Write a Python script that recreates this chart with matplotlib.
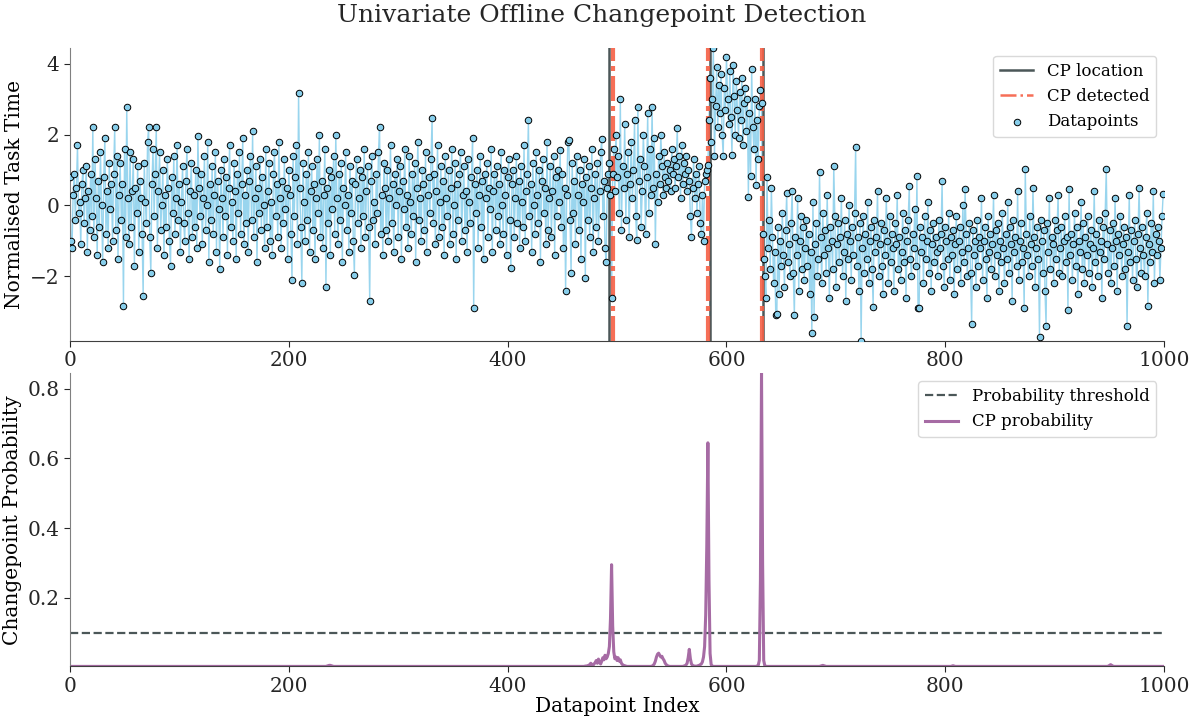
"""
单变量离线变点检测结果图：上图为数据点与变点位置，下图为变点概率
"""

import matplotlib
matplotlib.use('Agg')
import matplotlib.pyplot as plt
import numpy as np

plt.rcParams['font.family'] = ['DejaVu Serif']

# 归一化任务时间
task_time = [
    # 0 - 492
    0.8, -1.0, -1.2, 0.3, 0.9, -0.4, 0.5, 1.7, -0.2, 0.1, -1.1, 0.6, 1.0, -0.5, 0.2, 1.1, -1.3, 0.4, -0.7, 0.9,
    -0.3, 2.2, -0.9, 1.3, 0.2, -1.4, 0.7, -0.6, 1.5, 0.0, -1.6, 0.8, 1.9, -0.8, 0.4, -1.2, 1.2, -0.1, 0.6, -1.0,
    0.9, 2.2, -0.7, 1.4, -1.5, 0.3, 1.2, -0.4, 0.6, -2.83, 1.6, -0.9, 2.78, 0.2, -1.1, 1.5, -0.6, 0.4, 1.3, -1.7,
    0.5, -0.2, 1.1, -1.3, 0.7, 0.2, -0.8, -2.55, 1.2, 0.1, -0.5, 1.8, 2.2, -0.9, -1.9, 0.6, 1.6, -0.3, 0.9, 2.2,
    -1.2, 0.4, 1.5, -0.7, 0.0, 1.0, -1.4, 0.3, -0.6, 1.3, 0.5, -1.0, -1.7, 0.8, -0.2, 1.4, -0.8, 0.2, 1.7, -0.4,
    0.6, -1.3, 0.1, 1.1, -0.5, -1.0, 0.7, 1.6, -0.2, -1.5, 0.4, 1.2, -0.9, 0.3, -0.6, 1.0, -1.2, 1.96, 0.5, -0.3,
    0.9, -1.1, 0.2, 1.4, -0.7, 0.0, 1.8, -1.6, 0.6, -0.4, 1.1, -0.8, 0.3, 1.5, -1.3, 0.7, -0.1, -1.8, 1.0, 0.2,
    -0.9, 1.3, -0.3, 0.8, -1.4, 0.5, 1.7, -0.6, 0.1, -1.0, 1.2, 0.4, -1.5, 0.9, -0.2, 1.5, -0.8, 0.6, 1.9, -1.1,
    0.3, -0.5, 1.0, -1.3, 0.7, 1.4, -0.4, 2.1, -0.9, 0.2, 1.1, -1.6, 0.5, -0.2, 1.3, -0.7, 0.8, 0.0, -1.2, 1.6,
    -0.6, 0.4, 1.2, -1.0, 0.1, -1.4, 0.9, 1.5, -0.3, 0.6, -0.9, 1.8, 0.2, -1.2, 0.7, -0.5, 1.3, -0.1, 0.5, -1.5,
    1.0, 0.3, -0.8, -2.1, 1.4, -0.3, 0.8, 1.7, -1.1, 3.18, 0.5, -0.6, -2.2, 1.2, 0.1, -1.0, 0.9, -0.4, 1.5, -1.3,
    0.4, 1.1, -0.7, 0.6, -1.5, 0.2, 1.3, -0.2, 2.0, -0.9, 0.7, -1.2, 0.3, 1.6, -2.3, 0.5, -0.5, 1.0, -1.4, 0.8,
    -0.1, 1.4, -0.8, 2.0, 0.2, -1.1, 0.9, -0.4, 1.2, -1.6, 0.5, 0.0, 1.5, -0.7, 0.3, -1.3, 1.1, -0.2, 0.7, -1.0,
    -1.95, 0.6, 1.3, -0.5, 0.2, 1.0, -1.2, 0.8, -0.3, 1.6, -0.9, 0.4, 1.1, -0.6, -2.7, 0.7, 1.4, -0.4, 0.1, -1.1,
    0.9, -0.2, 1.5, 2.2, -0.8, 0.3, -1.4, 1.2, 0.5, -0.7, 1.0, -1.0, 0.2, 1.7, -0.5, 0.6, -1.3, 0.9, 0.0, 1.3,
    -0.9, 0.4, 1.1, -1.5, 0.7, -0.1, 1.6, -0.6, 0.3, -1.2, 1.4, 0.1, -0.8, 0.9, -0.3, 1.2, -1.6, 0.5, 1.8, -0.4,
    0.2, -1.0, 1.0, 0.6, -0.7, 1.5, -1.3, 0.3, 0.8, -0.2, 1.3, 2.46, -0.5, 0.9, -1.1, 0.4, 1.7, -0.9, 0.1, 1.1,
    -0.6, 0.7, -1.4, 1.4, 0.2, -0.3, 1.0, -1.1, 0.5, 1.6, -0.8, 0.0, 1.2, -1.5, 0.6, -0.4, 0.9, 1.5, -1.0, 0.3,
    1.1, -0.7, 0.4, -1.3, 1.3, 0.1, -0.5, 0.8, 1.9, -2.9, 0.6, -0.2, 1.0, -1.2, 0.3, 1.4, -0.6, 0.7, -1.5, 0.9,
    0.2, 1.2, -0.9, 0.5, -0.1, 1.6, -1.3, 0.4, 0.9, -0.7, 1.1, -0.3, 0.6, -1.1, 1.5, 0.0, -0.8, 1.0, 0.3, -1.4,
    0.8, 1.3, -0.4, -1.76, 0.6, 1.0, -0.9, 0.2, 1.4, -0.5, 0.7, -1.2, 1.1, 0.1, -0.6, 1.7, -1.0, 0.4, 0.9, 2.4,
    -0.3, 0.6, -1.3, 1.2, 0.0, -0.8, 1.5, 0.3, -0.5, 1.0, -1.6, 0.7, 1.3, -0.2, 0.5, -1.1, 1.8, -0.7, 0.2, 1.1,
    -0.9, 0.4, 1.4, -1.4, 0.8, -0.3, 1.0, 0.1, 1.55, -0.6, 0.9, -1.2, 0.5, -2.4, 0.3, 1.8, 1.85, -0.4, -1.9, 1.2,
    -0.2, 0.7, -1.1, 1.4, 0.3, -0.7, 1.0, -1.5, 0.6, 0.1, 1.3, -2.05, 0.8, -0.4, 1.1, -0.9, 0.5, 1.6, -1.3, 0.2,
    0.9, -0.6, 1.2, -1.0, 0.4, 1.5, 1.86, -0.3, 0.7, -1.2, -1.6, 0.5, 0.9,
    # 493 - 583
    1.2, 0.3, -2.6, 0.9, 1.6, 0.4, 2.0, 0.8, 1.4, -0.2, 3.0, -0.7, 1.1, 0.5, 2.3, -0.4, 0.9, 1.5, -0.9, 0.6,
    1.8, 0.2, 1.0, 2.4, -0.3, -0.97, 2.78, 0.7, 1.3, -0.6, 0.4, 2.0, 1.1, -0.8, 0.8, 2.6, -0.2, 1.6, 0.3, 2.77,
    0.5, 1.9, -1.1, 0.9, 0.1, 1.4, 0.6, 2.0, 1.1, 0.3, 1.5, 0.8, 0.5, 1.2, 0.7, 1.0, 0.4, 1.6, 0.9, 1.3,
    0.5, 1.1, 2.18, 0.8, 1.4, 0.2, 1.7, 0.6, 1.2, 0.9, 1.4, 0.4, 1.0, 0.7, -0.3, -0.9, 0.5, 1.3, 0.2, 0.9,
    -0.2, 0.6, 1.1, -0.5, -0.8, 0.3, -1.0, 0.7, 0.9, 1.0, 1.13,
    # 584 - 632
    2.4, 3.6, 1.8, 3.0, 4.45, 1.4, 2.8, 3.9, 2.2, 3.4, 2.6, 3.7, 2.0, 1.4, 3.3, 2.7, 4.2, 3.0, 2.3, 3.8,
    2.5, 1.43, 3.97, 3.1, 2.0, 3.5, 2.7, 1.9, 3.2, 2.4, 3.6, 1.7, 2.9, 3.3, 2.1, 3.0, 0.24, 2.6, 0.82, 3.85,
    2.2, 1.6, 3.0, 0.57, 2.4, 1.3, 2.8, 3.26, 2.9,
    # 633 - 999
    -0.8, -1.5, -2.0, -2.6, 0.8, -1.2, -0.4, -1.8, 0.5, -0.9, -2.2, -1.3, -3.1, -3.06, -0.6, -2.5, -1.0, -1.7, -0.2, -1.4,
    -2.3, -0.7, 0.35, -1.6, -1.1, -2.0, -0.5, 0.4, -1.9, -3.1, -0.9, -1.4, 0.2, -2.4, -1.0, -0.3, -1.8, -0.6, -2.1, -1.2,
    -0.4, -1.7, -0.8, -2.5, -1.3, -3.6, 0.1, -3.15, -1.1, -0.5, -2.0, -1.5, 0.94, -0.9, -2.2, -0.2, -1.4, -0.7, -1.9, 0.3,
    -1.2, -2.6, -0.6, -1.0, -1.8, 1.1, -0.3, -2.3, -1.1, -0.5, -1.6, -0.9, 0.2, -2.0, -1.3, -0.4, -2.7, -0.8, -1.5, 0.0,
    -1.0, -2.1, -0.6, -1.4, -0.2, 1.65, -1.7, -0.9, -2.4, -0.5, -3.82, -1.2, -0.3, -1.9, -0.8, -1.5, 0.1, -2.2, -1.0, -0.6,
    -1.8, -2.85, -0.4, -1.3, -0.9, 0.4, -2.0, -1.1, -0.5, -1.7, -2.5, -0.7, -1.4, 0.2, -1.0, -2.2, -0.3, -1.6, -0.8, -1.2,
    -2.4, -0.5, -1.1, 0.3, -1.8, -0.9, -2.1, -1.3, -0.2, -1.6, -0.7, -2.6, -1.0, -0.4, 0.54, -1.5, -2.0, -0.8, -1.2, -0.1,
    -1.7, 0.82, -2.9, -2.9, -0.6, -1.3, -0.9, -2.2, -0.3, -1.5, -1.0, 0.1, -1.9, -0.7, -2.4, -1.1, -0.5, -1.6, -0.9, -1.3,
    -2.0, -0.4, -1.2, -0.8, 0.68, -1.7, -2.3, -0.6, -1.0, -1.5, -0.2, -2.1, -0.9, -1.4, -0.7, -2.5, -1.1, -0.3, -1.8, -1.0,
    -0.6, -2.2, -1.3, 0.0, -1.6, 0.45, -0.8, -2.0, -1.2, -0.5, -1.9, -3.33, -0.7, -1.4, -1.0, -2.3, -0.4, -1.7, -0.9, -1.2,
    0.2, -2.1, -1.0, -0.6, -1.5, -2.6, -0.3, -1.3, -0.8, -1.8, -1.1, 0.3, -2.0, -0.7, -1.4, -0.5, -2.4, -1.0, -1.6, -0.2,
    -1.2, -2.2, -0.8, -1.5, 0.1, -1.9, -0.6, -1.1, -2.7, -0.4, -1.3, -0.9, -1.7, 0.4, -2.1, -1.0, -0.5, -1.6, -1.2, -2.9,
    1.02, -0.8, -1.4, -2.0, -0.3, -1.1, -1.7, 0.5, -0.9, -2.3, -1.2, -0.6, -1.5, -3.7, -0.4, -1.0, -1.9, -0.7, -2.4, -3.4,
    -0.5, -1.3, 0.2, -1.8, -0.9, -1.1, -2.2, -0.4, -1.5, -0.7, 0.3, -1.9, -1.2, -0.6, -2.0, -1.0, -0.3, -1.6, -0.9, -2.95,
    0.45, -1.4, -0.8, -2.1, -1.1, -0.2, -1.7, -0.6, -2.5, -1.0, -1.3, 0.1, -1.8, -0.5, -2.2, -0.9, -1.4, -0.3, -1.9, -1.1,
    -0.7, -2.3, -1.2, 0.4, -1.6, -0.8, -2.0, -0.4, -1.3, -1.0, -2.6, -0.6, -1.5, -0.2, 1.02, -1.1, -1.9, -0.7, -2.2, -1.2,
    -0.5, -1.7, 0.2, -1.0, -2.4, -0.8, -1.4, -0.3, -2.0, -1.1, -0.6, -1.8, -0.9, -3.4, -1.3, 0.3, -1.6, -0.7, -2.1, -1.0,
    -0.4, -1.5, -2.3, -0.8, 0.5, -1.2, -1.9, -0.6, -1.4, -2.0, -0.9, -0.2, -2.83, -1.1, -1.6, -0.5, -1.3, 0.4, -2.2, -0.8,
    -1.4, -0.6, -1.0, -2.1, -1.2, -0.3, 0.32,
]

# 真实变点位置 与 检测到的变点
cp_location = [493, 585, 633]
cp_detected = [496, 583, 632]

# 变点概率（基线约 0.003，其余为尖峰）
cp_prob = (
    [0.003] * 235 + [0.004, 0.005, 0.006, 0.006, 0.005, 0.004] + [0.003] * 229
    + [0.003, 0.004, 0.004, 0.005, 0.006, 0.008, 0.012, 0.009, 0.006, 0.010,
       0.014, 0.020, 0.012, 0.024, 0.015, 0.010, 0.018, 0.028, 0.022, 0.035,
       0.025, 0.030, 0.040, 0.060, 0.140, 0.295, 0.120, 0.045, 0.025, 0.030,
       0.020, 0.028, 0.018, 0.022, 0.012, 0.008, 0.006, 0.005, 0.004, 0.003]
    + [0.003] * 22
    + [0.004, 0.006, 0.010, 0.018, 0.030, 0.038, 0.041, 0.035, 0.030, 0.032,
       0.025, 0.020, 0.012, 0.008, 0.005, 0.004]
    + [0.003] * 13
    + [0.004, 0.005, 0.007, 0.012, 0.028, 0.052, 0.025, 0.010, 0.006, 0.004]
    + [0.004, 0.003, 0.004, 0.005, 0.006, 0.008, 0.010, 0.016, 0.030, 0.060,
       0.150, 0.350, 0.645, 0.250, 0.040, 0.008, 0.004, 0.003, 0.003, 0.003]
    + [0.003] * 35
    + [0.003, 0.003, 0.004, 0.006, 0.020, 0.250, 0.845, 0.300, 0.020, 0.005,
       0.003, 0.003, 0.003, 0.003, 0.003]
    + [0.003] * 45 + [0.004, 0.005, 0.006, 0.005, 0.004] + [0.003] * 115
    + [0.004, 0.005, 0.004] + [0.003] * 140
    + [0.004, 0.006, 0.008, 0.006, 0.004] + [0.003] * 46
)
prob_threshold = 0.1

DARK = '#4b5758'
RED = '#f55f45'
BLUE = '#87ceeb'
PURPLE = '#a66ba4'

idx = np.arange(len(task_time))
prob_idx = np.arange(len(cp_prob))

fig, (ax1, ax2) = plt.subplots(2, 1, figsize=(12.04, 7.22), dpi=100)
fig.subplots_adjust(left=0.058, right=0.967, top=0.934, bottom=0.077, hspace=0.11)

# 上图：数据点 + 变点
ax1.plot(idx, task_time, color=BLUE, linewidth=1, alpha=0.85, zorder=1)
for i, x in enumerate(cp_location):
    ax1.axvline(x, color=DARK, linewidth=1.8, zorder=2,
                label='CP location' if i == 0 else None)
for i, x in enumerate(cp_detected):
    ax1.axvline(x, color=RED, linestyle=(0, (6, 1.2, 1.2, 1.2)), linewidth=3,
                alpha=0.9, zorder=3, label='CP detected' if i == 0 else None)
ax1.scatter(idx, task_time, s=22, color=BLUE, edgecolor='black', linewidth=0.7,
            zorder=4, label='Datapoints')
ax1.set_xlim(0, 1000)
ax1.set_ylim(min(task_time), max(task_time))
ax1.set_yticks([-2, 0, 2, 4])
ax1.set_ylabel('Normalised Task Time', fontsize=14.5)
leg1 = ax1.legend(loc='upper right', fontsize=12, framealpha=1, edgecolor='0.85')
# 图例中的线条细一点
leg1.get_lines()[0].set_linewidth(1.8)
leg1.get_lines()[1].set_linewidth(1.8)
leg1.get_lines()[1].set_linestyle('-.')

# 下图：变点概率
ax2.axhline(prob_threshold, color=DARK, linestyle='--', linewidth=1.6,
            label='Probability threshold')
ax2.plot(prob_idx, cp_prob, color=PURPLE, linewidth=2.2, label='CP probability')
ax2.set_xlim(0, 1000)
ax2.set_ylim(min(cp_prob), max(cp_prob))
ax2.set_yticks([0.2, 0.4, 0.6, 0.8])
ax2.set_xlabel('Datapoint Index', fontsize=14.5, labelpad=1)
ax2.set_ylabel('Changepoint Probability', fontsize=14.5)
ax2.legend(loc='upper right', fontsize=12, framealpha=1, edgecolor='0.85')

for ax in (ax1, ax2):
    ax.spines['top'].set_visible(False)
    ax.spines['right'].set_visible(False)
    ax.spines['left'].set_color('0.5')
    ax.spines['bottom'].set_color('0.25')
    ax.tick_params(labelsize=14.5, colors='0.15', length=4)
    ax.set_xticks([0, 200, 400, 600, 800, 1000])

fig.suptitle('Univariate Offline Changepoint Detection', fontsize=18, color='0.15', y=0.995)

plt.savefig('out.png', dpi=100)
